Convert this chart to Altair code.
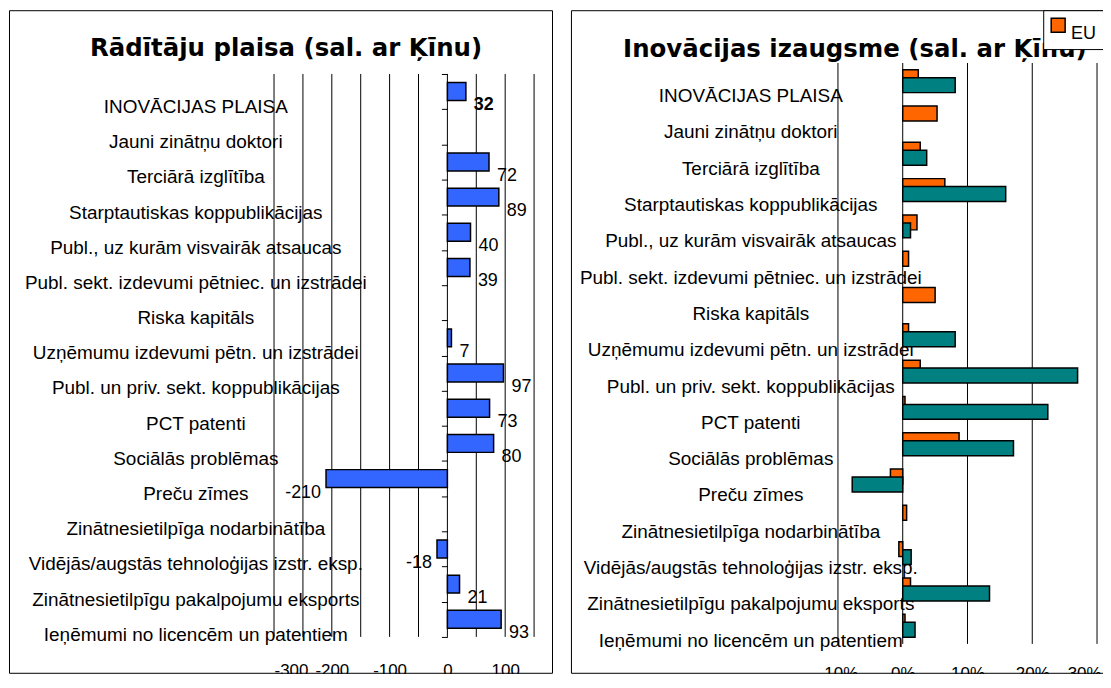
import altair as alt
import pandas as pd

categories = [
    "INOVĀCIJAS PLAISA",
    "Jauni zinātņu doktori",
    "Terciārā izglītība",
    "Starptautiskas koppublikācijas",
    "Publ., uz kurām visvairāk atsaucas",
    "Publ. sekt. izdevumi pētniec. un izstrādei",
    "Riska kapitāls",
    "Uzņēmumu izdevumi pētn. un izstrādei",
    "Publ. un priv. sekt. koppublikācijas",
    "PCT patenti",
    "Sociālās problēmas",
    "Preču zīmes",
    "Zinātnesietilpīga nodarbinātība",
    "Vidējās/augstās tehnoloģijas izstr. eksp.",
    "Zinātnesietilpīgu pakalpojumu eksports",
    "Ieņēmumi no licencēm un patentiem",
]
gap_values = [32, None, 72, 89, 40, 39, None, 7, 97, 73, 80, -210, None, -18, 21, 93]
growth_eu = [0.024, 0.053, 0.027, 0.065, 0.022, 0.009, 0.050, 0.009, 0.027, 0.0035,
             0.087, -0.019, 0.006, -0.006, 0.012, 0.0035]
growth_cn = [0.081, None, 0.037, 0.159, 0.012, None, None, 0.081, 0.270, 0.224,
             0.171, -0.078, None, 0.013, 0.134, 0.019]
series_names = ["EU", "Ķīna"]
gap_grid = [-300, -250, -200, -150, -100, -50, 0, 50, 100, 150]
growth_grid = [-0.1, 0.0, 0.1, 0.2, 0.3]

title_left = "Rādītāju plaisa (sal. ar Ķīnu)"
title_right = "Inovācijas izaugsme (sal. ar Ķīnu)"

BLUE = "#3366FF"
ORANGE = "#FF6600"
TEAL = "#008080"
FONT = "Liberation Sans"
TFONT = "DejaVu Sans"

H = 665  # panel (box) height


def title_layer(text, cx, cy):
    return alt.Chart(pd.DataFrame({"t": [text]})).mark_text(
        font=TFONT, fontSize=24.5, fontWeight="bold", color="black",
        align="center", baseline="middle"
    ).encode(text="t:N", x=alt.value(cx), y=alt.value(cy))


# ---------- left panel ----------
gap_df = pd.DataFrame({"cat": categories, "value": gap_values}).dropna()
gap_df["label"] = gap_df["value"].map(lambda v: str(int(v)))
gap_grid_df = pd.DataFrame({"value": gap_grid})

LW = 545
GT, GB = 64, 629  # plot area top / bottom inside the panel
y_gap = alt.Y(
    "cat:N",
    scale=alt.Scale(domain=categories, range=[GT, GB],
                    paddingInner=0, paddingOuter=0),
    axis=alt.Axis(orient="left", offset=-440, domain=False, ticks=True,
                  tickSize=6, tickColor="black", tickWidth=1, tickBand="extent",
                  labelAlign="center", labelBaseline="middle", labelPadding=247,
                  labelOffset=15, labelFontSize=19, labelFont=FONT,
                  labelColor="black", labelLimit=1000, title=None, grid=False,
                  minExtent=0),
)
x_gap = alt.X(
    "value:Q",
    scale=alt.Scale(domain=[-300, 150], range=[266, 527], nice=False, zero=False),
    axis=alt.Axis(orient="bottom", values=gap_grid, offset=-12, domain=False,
                  ticks=False, tickSize=0, labelPadding=2, labelFontSize=17,
                  labelFont=FONT, labelColor="black", labelBaseline="top",
                  labelExpr="datum.value % 100 == 0 ? toString(datum.value) : ''",
                  grid=False, title=None, minExtent=0),
)

gap_gridlines = alt.Chart(gap_grid_df).mark_rule(color="black", strokeWidth=1).encode(
    x=x_gap, y=alt.value(GT), y2=alt.value(GB))
gap_base = alt.Chart(gap_df)
gap_bars = gap_base.mark_bar(height=18, color=BLUE, stroke="black",
                             strokeWidth=1.5).encode(x=x_gap, y=y_gap)
gap_pos = gap_base.transform_filter(
    (alt.datum.value >= 0) & (alt.datum.cat != categories[0])
).mark_text(align="left", baseline="middle", dx=8, dy=14, fontSize=18,
            font=FONT, color="black").encode(x=x_gap, y=y_gap, text="label:N")
gap_neg = gap_base.transform_filter(alt.datum.value < 0).mark_text(
    align="right", baseline="middle", dx=-5, dy=14, fontSize=18, font=FONT,
    color="black").encode(x=x_gap, y=y_gap, text="label:N")
gap_bold = gap_base.transform_filter(alt.datum.cat == categories[0]).mark_text(
    align="left", baseline="middle", dx=8, dy=14, fontSize=18, font=FONT,
    fontWeight="bold", color="black").encode(x=x_gap, y=y_gap, text="label:N")

left = alt.layer(gap_gridlines, gap_bars, gap_pos, gap_neg, gap_bold,
                 title_layer(title_left, 278, 39)).properties(width=LW, height=H)

# ---------- right panel ----------
rows = []
for c, e, k in zip(categories, growth_eu, growth_cn):
    rows.append({"cat": c, "series": series_names[0], "value": e})
    rows.append({"cat": c, "series": series_names[1], "value": k})
g_df = pd.DataFrame(rows).dropna()
g_grid_df = pd.DataFrame({"value": growth_grid})

RW = 541
RT, RB = 53, 636
y_g = alt.Y(
    "cat:N",
    scale=alt.Scale(domain=categories, range=[RT, RB],
                    paddingInner=0, paddingOuter=0),
    axis=alt.Axis(orient="left", offset=-333, domain=False, ticks=False,
                  tickSize=0, labelAlign="center", labelBaseline="middle",
                  labelPadding=153, labelOffset=15, labelFontSize=19,
                  labelFont=FONT, labelColor="black", labelLimit=1000,
                  title=None, grid=False, minExtent=0),
)
x_g = alt.X(
    "value:Q",
    scale=alt.Scale(domain=[-0.1, 0.3], range=[268, 528], nice=False, zero=False),
    axis=alt.Axis(orient="bottom", values=growth_grid, format=".0%", offset=-9,
                  domain=False, ticks=False, tickSize=0, labelPadding=2,
                  labelFontSize=17, labelFont=FONT, labelColor="black",
                  labelBaseline="top",
                  labelAlign={"condition": {"test": "datum.value > 0.25", "value": "right"},
                              "value": "center"},
                  labelOffset={"condition": {"test": "datum.value > 0.25", "value": 4},
                               "value": 0},
                  labelExpr="replace(datum.label, '\u2212', '-')",
                  grid=False, title=None, minExtent=0),
)
color = alt.Color(
    "series:N",
    scale=alt.Scale(domain=series_names, range=[ORANGE, TEAL]),
    legend=alt.Legend(values=[series_names[0]], orient="none", legendX=1038,
                      legendY=0, title=None, strokeColor="black",
                      fillColor="white", padding=6, symbolType="square",
                      symbolSize=196, symbolStrokeColor="black",
                      symbolStrokeWidth=1.5, labelFontSize=18, labelFont=FONT,
                      labelColor="black", labelBaseline="top", cornerRadius=0,
                      labelExpr="datum.label + '   '"),
)
g_gridlines = alt.Chart(g_grid_df).mark_rule(color="black", strokeWidth=1).encode(
    x=x_g, y=alt.value(RT), y2=alt.value(RB))
g_base = alt.Chart(g_df)
g_eu = g_base.transform_filter(alt.datum.series == series_names[0]).mark_bar(
    height=15, yOffset=-4, stroke="black", strokeWidth=1.5
).encode(x=x_g, y=y_g, color=color)
g_cn = g_base.transform_filter(alt.datum.series == series_names[1]).mark_bar(
    height=15, yOffset=4, stroke="black", strokeWidth=1.5
).encode(x=x_g, y=y_g, color=color)

right = alt.layer(g_gridlines, g_eu, g_cn,
                  title_layer(title_right, 285, 40)).properties(width=RW, height=H)

chart = alt.hconcat(left, right, spacing=17).properties(
    padding={"left": 0, "top": -9, "right": -8, "bottom": -10},
    background="white",
).configure_view(stroke="black", strokeWidth=1)

chart.save("out.html", embed_options={"renderer": "svg", "actions": False})
